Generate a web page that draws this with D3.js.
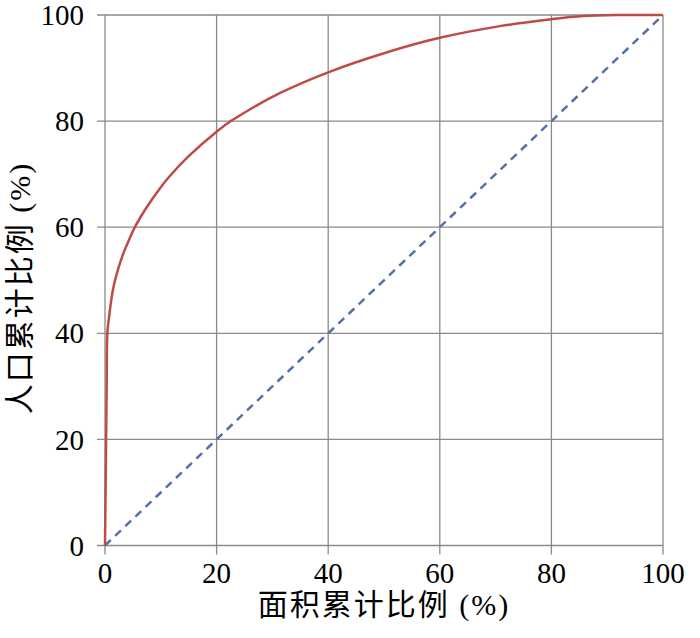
<!DOCTYPE html>
<html>
<head>
<meta charset="utf-8">
<script src="https://cdn.jsdelivr.net/npm/d3@7"></script>
<style>
  body { margin: 0; background: #fff; }
  svg text { font-family: "Liberation Serif", "Noto Sans CJK SC", serif; fill: #000; }
</style>
</head>
<body>
<div id="chart"></div>
<script>
// cumulative area share (%) vs cumulative population share (%)
const areaPct = [0, 0.2, 0.3, 0.42, 0.66, 0.96, 1.3, 1.8, 2.5, 3.3, 4.3, 5.4, 7.5, 9.9, 11.5, 14.9, 20, 22.7, 31.4, 40, 50, 60, 70.8, 80, 85.7, 92, 100]
const popPct  = [0, 20, 30, 40, 42.5, 45, 47.5, 50, 52.6, 55.1, 57.6, 60.1, 63.8, 67.4, 69.5, 73.3, 78.0, 80.1, 85.3, 89.2, 92.8, 95.7, 97.9, 99.2, 99.8, 100, 100]
// equality line
const diagX = [0, 100]
const diagY = [0, 100]
const xTicks = [0, 20, 40, 60, 80, 100]
const yTicks = [0, 20, 40, 60, 80, 100]
const xTitle = "面积累计比例 (%)"
const yTitle = "人口累计比例 (%)"

const width = 700
const height = 638
const margin = { left: 105, right: 37, top: 15, bottom: 92.5 }

const svg = d3.select("#chart")
  .append("svg")
  .attr("width", width)
  .attr("height", height)

const x = d3.scaleLinear().domain([0, 100]).range([margin.left, width - margin.right])
const y = d3.scaleLinear().domain([0, 100]).range([height - margin.bottom, margin.top])

const gridColor = "#8f8888"

// horizontal grid lines (with a short tick to the left)
svg.append("g")
  .selectAll("line")
  .data(yTicks)
  .enter()
  .append("line")
  .attr("x1", x(0) - 8)
  .attr("x2", x(100))
  .attr("y1", d => y(d))
  .attr("y2", d => y(d))
  .style("stroke", gridColor)
  .style("stroke-width", 1.3)

// vertical grid lines (with a short tick below)
svg.append("g")
  .selectAll("line")
  .data(xTicks)
  .enter()
  .append("line")
  .attr("x1", d => x(d))
  .attr("x2", d => x(d))
  .attr("y1", y(100))
  .attr("y2", y(0) + 9)
  .style("stroke", gridColor)
  .style("stroke-width", 1.3)

// tick labels
svg.append("g")
  .selectAll("text")
  .data(yTicks)
  .enter()
  .append("text")
  .attr("x", x(0) - 21)
  .attr("y", d => y(d))
  .attr("dy", "0.35em")
  .attr("text-anchor", "end")
  .style("font-size", "29px")
  .text(d => d)

svg.append("g")
  .selectAll("text")
  .data(xTicks)
  .enter()
  .append("text")
  .attr("x", d => x(d))
  .attr("y", y(0) + 37)
  .attr("text-anchor", "middle")
  .style("font-size", "29px")
  .text(d => d)

// axis titles
svg.append("text")
  .attr("x", (x(0) + x(100)) / 2)
  .attr("y", 615)
  .attr("text-anchor", "middle")
  .style("font-size", "30px")
  .style("letter-spacing", "2px")
  .text(xTitle)

svg.append("text")
  .attr("transform", "translate(30, 288) rotate(-90)")
  .attr("text-anchor", "middle")
  .style("font-size", "30px")
  .style("letter-spacing", "2px")
  .text(yTitle)

// equality line
const diag = diagX.map((d, i) => [d, diagY[i]])
svg.append("path")
  .datum(diag)
  .attr("d", d3.line().x(d => x(d[0])).y(d => y(d[1])))
  .style("fill", "none")
  .style("stroke", "#5470a8")
  .style("stroke-width", 2.5)
  .style("stroke-dasharray", "8,6")

// lorenz curve
const curve = areaPct.map((d, i) => [d, popPct[i]])
svg.append("path")
  .datum(curve)
  .attr("d", d3.line().x(d => x(d[0])).y(d => y(d[1])).curve(d3.curveCatmullRom.alpha(0.5)))
  .style("fill", "none")
  .style("stroke", "#be4b48")
  .style("stroke-width", 2.5)
</script>
</body>
</html>
